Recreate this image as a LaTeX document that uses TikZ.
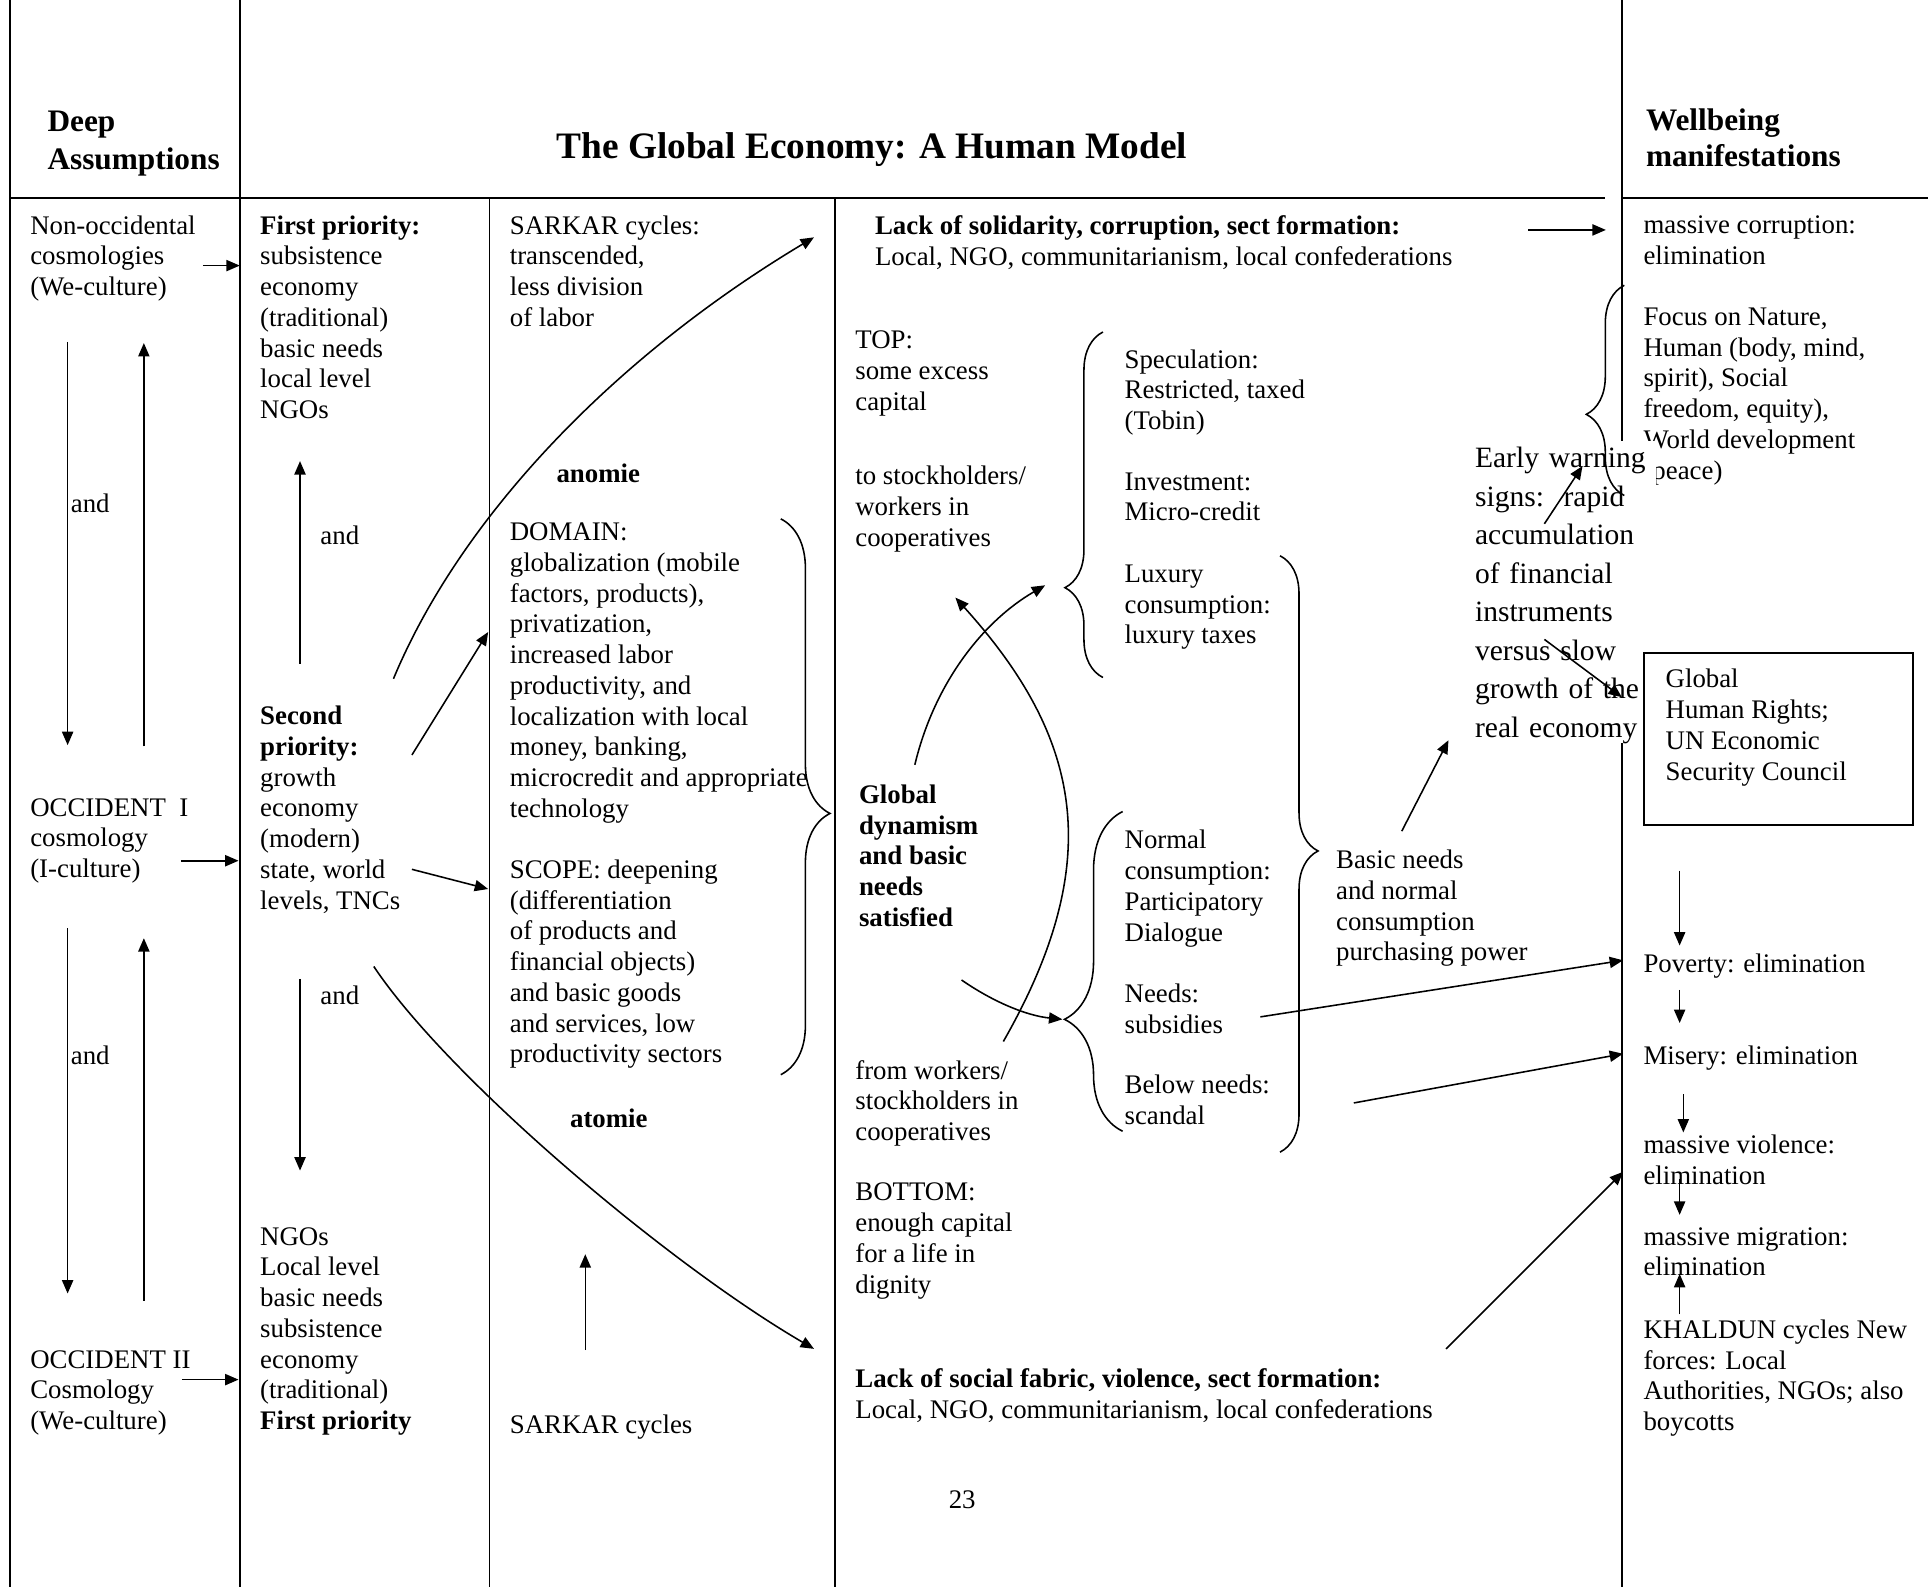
\documentclass[tikz,border=0pt]{standalone}
\usepackage{fontspec}
\setmainfont{Liberation Serif}
\usetikzlibrary{arrows.meta,decorations.pathreplacing,positioning}

\tikzset{
  plain/.style={anchor=north west, inner sep=0pt, align=left,
    font=\fontsize{12}{13.75}\selectfont, execute at begin node=\strut},
  txt/.style={plain, yshift=-2pt},
  bftxt/.style={txt, font=\bfseries\fontsize{12}{13.75}\selectfont},
  hdtxt/.style={txt, font=\bfseries\fontsize{14}{17}\selectfont},
  warn/.style={plain, font=\fontsize{13.2}{17.2}\selectfont, fill=white, text width=81pt},
  arr/.style={-{Triangle[length=6pt,width=5pt]}},
}

\begin{document}
\begin{tikzpicture}[x=0.55pt, y=-0.55pt, line width=0.7pt]
  \useasboundingbox (0,0) rectangle (1568,1291);

  \draw (8,0) -- (8,1291);
  \draw (195,0) -- (195,1291);
  \draw (1319,0) -- (1319,1291);
  \draw (398,161) -- (398,1291);
  \draw (679,161) -- (679,1291);
  \draw[line width=1pt] (8,161) -- (1305,161) (1320,161) -- (1568,161);

  \node[hdtxt] (h1) at (38,86) {Deep\\Assumptions};
  \node[anchor=base, inner sep=0pt, font=\bfseries\fontsize{16.7}{20}\selectfont] (h2) at (709,129)
    {The Global Economy: A Human Model};
  \node[hdtxt, font=\bfseries\fontsize{14}{16}\selectfont] (h3) at (1338,84) {Wellbeing\\manifestations};

  \node[txt] (a1) at (24,171) {Non-occidental\\cosmologies\\(We-culture)};
  \node[txt] (a2) at (57,395) {and};
  \node[txt] (a3) at (24,645) {OCCIDENT\ \ I\\cosmology\\(I-culture)};
  \node[txt] (a4) at (57,844) {and};
  \node[txt] (a5) at (24,1094) {OCCIDENT II\\Cosmology\\(We-culture)};

  \node[txt] (b1) at (211,171) {\textbf{First priority:}\\subsistence\\economy\\(traditional)\\basic needs\\local level\\NGOs};
  \node[txt] (b2) at (260,421) {and};
  \node[txt] (b3) at (211,570) {\textbf{Second}\\\textbf{priority:}\\growth\\economy\\(modern)\\state, world\\levels, TNCs};
  \node[txt] (b4) at (260,795) {and};
  \node[txt] (b5) at (211,994) {NGOs\\Local level\\basic needs\\subsistence\\economy\\(traditional)\\\textbf{First priority}};

  \node[txt] (c1) at (414,171) {SARKAR cycles:\\transcended,\\less division\\of labor};
  \node[bftxt] (c2) at (452,371) {anomie};
  \node[txt] (c3) at (414,421) {DOMAIN:\\globalization (mobile\\factors, products),\\privatization,\\increased labor\\productivity, and\\localization with local\\money, banking,\\microcredit and appropriate\\technology};
  \node[txt] (c4) at (414,695) {SCOPE: deepening\\(differentiation\\of products and\\financial objects)\\and basic goods\\and services, low\\productivity sectors};
  \node[bftxt] (c5) at (463,895) {atomie};
  \node[txt] (c6) at (414,1144) {SARKAR cycles};

  \node[txt] (d1) at (711,171) {\textbf{Lack of solidarity, corruption, sect formation:}\\Local, NGO, communitarianism, local confederations};
  \node[txt] (d2) at (695,265) {TOP:\\some excess\\capital};
  \node[txt] (d3) at (695,375) {to stockholders/\\workers in\\cooperatives};
  \node[bftxt] (d4) at (698,634) {Global\\dynamism\\and basic\\needs\\satisfied};
  \node[txt] (d5) at (695,858) {from workers/\\stockholders in\\cooperatives};
  \node[txt] (d6) at (695,958) {BOTTOM:\\enough capital\\for a life in\\dignity};
  \node[txt] (d7) at (695,1109) {\textbf{Lack of social fabric, violence, sect formation:}\\Local, NGO, communitarianism, local confederations};
  \node[txt] (d8) at (771,1205) {23};
  \node[txt] (d9) at (914,280) {Speculation:\\Restricted, taxed\\(Tobin)};
  \node[txt] (d10) at (914,380) {Investment:\\Micro-credit};
  \node[txt] (d11) at (914,455) {Luxury\\consumption:\\luxury taxes};
  \node[txt] (d12) at (914,671) {Normal\\consumption:\\Participatory\\Dialogue};
  \node[txt] (d13) at (914,796) {Needs:\\subsidies};
  \node[txt] (d14) at (914,870) {Below needs:\\scandal};
  \node[txt] (d15) at (1086,687) {Basic needs\\and normal\\consumption\\purchasing power};

  \node[txt] (e1) at (1336,171) {massive corruption:\\elimination};
  \node[txt] (e2) at (1336,246) {Focus on Nature,\\Human (body, mind,\\spirit), Social\\freedom, equity),\\World development\\(peace)};
  \node[warn] (e3) at (1199,358) {Early warning\\signs:\ \ rapid\\accumulation\\of financial\\instruments\\versus slow\\growth of the\\real economy};
  \node[txt] (e4) at (1354,540) {Global\\Human Rights;\\UN Economic\\Security Council};
  \draw ([xshift=-9.35pt,yshift=6.95pt]e4.north west) rectangle +(120.45pt,-77pt);
  \node[txt] (e5) at (1336,769) {Poverty: elimination};
  \node[txt] (e6) at (1336,844) {Misery: elimination};
  \node[txt] (e7) at (1336,919) {massive violence:\\elimination};
  \node[txt] (e8) at (1336,994) {massive migration:\\elimination};
  \node[txt] (e9) at (1336,1069) {KHALDUN cycles New\\forces: Local\\Authorities, NGOs; also\\boycotts};

  \draw[decorate, decoration={brace, amplitude=17pt, aspect=0.26}] (897,551) -- (897,270);
  \draw[decorate, decoration={brace, amplitude=26pt, aspect=0.35}] (913,920) -- (913,660);
  \draw[decorate, decoration={brace, amplitude=17pt, aspect=0.495}] (1041,452) -- (1041,937);
  \draw[decorate, decoration={brace, amplitude=22pt, aspect=0.53}] (635,422) -- (635,874);
  \draw[decorate, decoration={brace, amplitude=17pt, aspect=0.386}] (1321,403) -- (1321,232);

  \coordinate (a6) at (165,216);
  \coordinate[right=16.5pt of a6] (a7);
  \coordinate (a8) at (55,278);
  \coordinate[below=180.4pt of a8] (a9);
  \coordinate (a10) at (117,607);
  \coordinate[above=180.4pt of a10] (a11);
  \coordinate (a12) at (147,700);
  \coordinate[right=25.85pt of a12] (a13);
  \coordinate (a14) at (55,755);
  \coordinate[below=163.35pt of a14] (a15);
  \coordinate (a16) at (117,1058);
  \coordinate[above=162.25pt of a16] (a17);
  \coordinate (a18) at (148,1122);
  \coordinate[right=25.3pt of a18] (a19);

  \coordinate (b6) at (244,540);
  \coordinate[above=90.75pt of b6] (b7);
  \coordinate (b8) at (244,796);
  \coordinate[below=85.8pt of b8] (b9);
  \coordinate (b10) at (320,552);
  \coordinate (b11) at (662,193);
  \coordinate (b12) at (335,614);
  \coordinate (b13) at (397,514);
  \coordinate (b14) at (335,707);
  \coordinate (b15) at (397,723);
  \coordinate (b16) at (304,786);
  \coordinate (b17) at (662,1097);

  \coordinate (c7) at (476,1098);
  \coordinate[above=42.9pt of c7] (c8);

  \coordinate (d16) at (1243,187);
  \coordinate[right=34.65pt of d16] (d17);
  \coordinate (d18) at (744,622);
  \coordinate (d19) at (850,476);
  \coordinate (d20) at (816,847);
  \coordinate (d21) at (777,486);
  \coordinate (d22) at (782,797);
  \coordinate (d23) at (864,829);
  \coordinate (d24) at (1025,827);
  \coordinate (d25) at (1320,781);
  \coordinate (d26) at (1101,897);
  \coordinate (d27) at (1320,857);
  \coordinate (d28) at (1140,676);
  \coordinate (d29) at (1178,602);
  \coordinate (d30) at (1176,1097);
  \coordinate (d31) at (1320,953);

  \coordinate (e10) at (1366,708);
  \coordinate[below=33.55pt of e10] (e11);
  \coordinate (e12) at (1366,805);
  \coordinate[below=14.85pt of e12] (e13);
  \coordinate (e14) at (1369,890);
  \coordinate[below=17.05pt of e14] (e15);
  \coordinate (e16) at (1366,959);
  \coordinate[below=15.95pt of e16] (e17);
  \coordinate (e18) at (1366,1069);
  \coordinate[above=18.15pt of e18] (e19);
  \coordinate (e20) at (1256,426);
  \coordinate (e21) at (1287,379);
  \coordinate (e22) at (1256,520);
  \coordinate (e23) at (1319,567);

  \draw[arr] (a6) -- (a7);
  \draw[arr] (a8) -- (a9);
  \draw[arr] (a10) -- (a11);
  \draw[arr] (a12) -- (a13);
  \draw[arr] (a14) -- (a15);
  \draw[arr] (a16) -- (a17);
  \draw[arr] (a18) -- (a19);

  \draw[arr] (b6) -- (b7);
  \draw[arr] (b8) -- (b9);
  \draw[arr] (b10) .. controls (375,420) and (500,290) .. (b11);
  \draw[arr] (b12) -- (b13);
  \draw[arr] (b14) -- (b15);
  \draw[arr] (b16) .. controls (364,876) and (542,1027) .. (b17);

  \draw[arr] (c7) -- (c8);

  \draw[arr] (d16) -- (d17);
  \draw[arr] (d18) .. controls (760,555) and (800,505) .. (d19);
  \draw[arr] (d20) .. controls (900,700) and (880,600) .. (d21);
  \draw[arr] (d22) .. controls (808,815) and (835,826) .. (d23);
  \draw[arr] (d24) -- (d25);
  \draw[arr] (d26) -- (d27);
  \draw[arr] (d28) -- (d29);
  \draw[arr] (d30) -- (d31);

  \draw[arr] (e10) -- (e11);
  \draw[arr] (e12) -- (e13);
  \draw[arr] (e14) -- (e15);
  \draw[arr] (e16) -- (e17);
  \draw[arr] (e18) -- (e19);
  \draw[arr] (e20) -- (e21);
  \draw[arr] (e22) -- (e23);
\end{tikzpicture}
\end{document}
